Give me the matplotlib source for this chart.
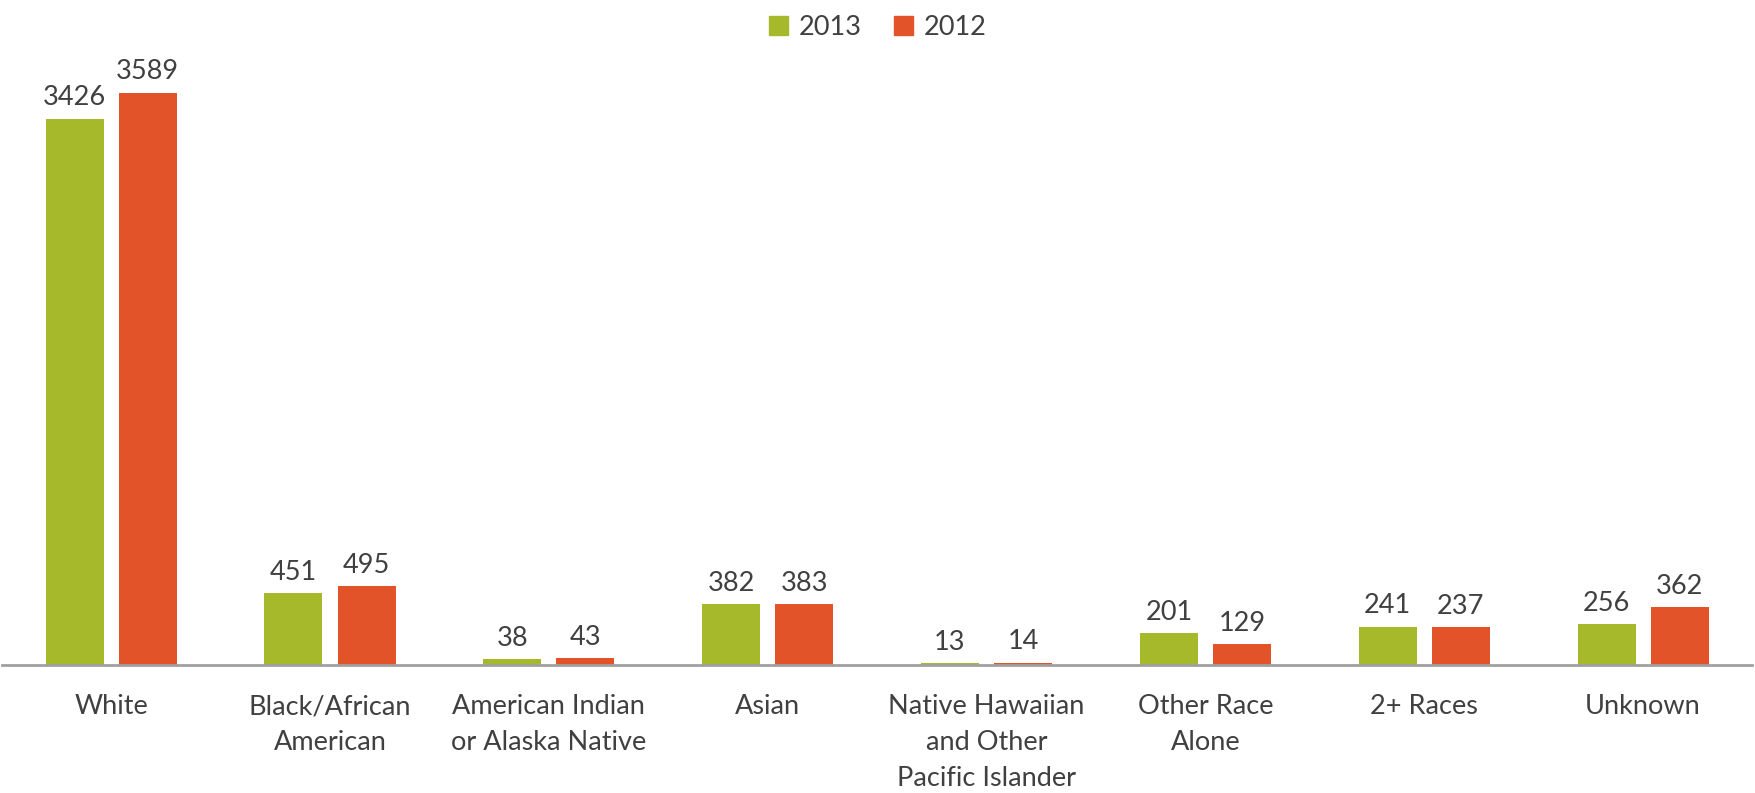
import matplotlib
matplotlib.use("Agg")
from matplotlib import pyplot as plt
from matplotlib.patches import Patch
import numpy as np

categories = ["White", "Black/African\nAmerican", "American Indian\nor Alaska Native", "Asian",
              "Native Hawaiian\nand Other\nPacific Islander", "Other Race\nAlone", "2+ Races", "Unknown"]
values_2013 = [3426, 451, 38, 382, 13, 201, 241, 256]
values_2012 = [3589, 495, 43, 383, 14, 129, 237, 362]
series_names = ["2013", "2012"]

green = "#A6B92A"
orange = "#E2532A"
text_color = "#404040"

plt.rcParams['font.family'] = ['Lato', 'DejaVu Sans']

fig = plt.figure(figsize=(17.56, 7.93), dpi=100)
ax = fig.add_axes([0.001, 1 - 665 / 793, 0.997, (665 - 27) / 793])

x = np.arange(len(categories))
width = 0.265
offset = 0.167

bars_a = ax.bar(x - offset, values_2013, width, color=green)
bars_b = ax.bar(x + offset, values_2012, width, color=orange)

for bars in (bars_a, bars_b):
    for b in bars:
        ax.annotate(f"{int(b.get_height())}", (b.get_x() + b.get_width() / 2, b.get_height()),
                    xytext=(0, 6), textcoords="offset points", ha="center", va="bottom",
                    fontsize=19.5, color=text_color)

ax.set_xlim(-0.5, len(categories) - 0.5)
ax.set_ylim(0, 4000)
ax.set_xticks(x)
ax.set_xticklabels(categories, fontsize=19.5, color=text_color, linespacing=1.55)
ax.tick_params(axis="x", length=0, pad=21)
ax.set_yticks([])
for side in ("top", "right", "left"):
    ax.spines[side].set_visible(False)
ax.spines["bottom"].set_color("#A0A0A0")
ax.spines["bottom"].set_linewidth(2)

handles = [Patch(color=green), Patch(color=orange)]
fig.legend(handles, series_names, loc="upper center", bbox_to_anchor=(0.5, 1.012), ncol=2,
           frameon=False, fontsize=19.5, labelcolor=text_color, handlelength=0.7, handleheight=0.7,
           handletextpad=0.4, columnspacing=1.2)

fig.savefig("out.png", dpi=100)
